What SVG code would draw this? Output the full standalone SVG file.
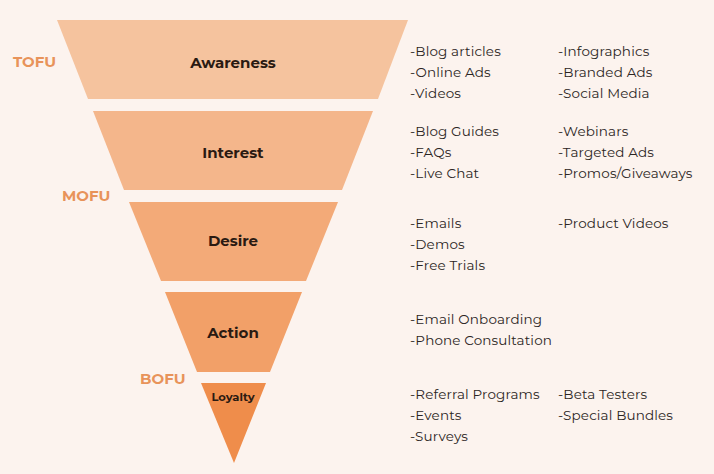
<svg xmlns="http://www.w3.org/2000/svg" width="714" height="474" viewBox="0 0 714 474">
<style>
.stage{font-family:"Montserrat","Lato","Open Sans",sans-serif;font-weight:700;font-size:15px;fill:#2a1a12;text-anchor:middle}
.tag{font-family:"Montserrat","Lato","Open Sans",sans-serif;font-weight:700;font-size:15px;fill:#E8935A}
.item{font-family:"Montserrat","Open Sans",sans-serif;font-size:13.5px;letter-spacing:0.15px;fill:#2b2523}
</style>
<rect width="714" height="474" fill="#FCF3EE"/>
<g id="awareness">
<polygon points="57,20 408,20 378,99 88,99" fill="#F5C39E"/>
<text class="stage" x="233" y="68">Awareness</text>
</g>
<g id="interest">
<polygon points="93,111 373,111 342,190 124,190" fill="#F4B68B"/>
<text class="stage" x="233" y="158">Interest</text>
</g>
<g id="desire">
<polygon points="129,202 338,202 306,281 161,281" fill="#F3AA78"/>
<text class="stage" x="233" y="246">Desire</text>
</g>
<g id="action">
<polygon points="165,292 302,292 270,372 197,372" fill="#F2A068"/>
<text class="stage" x="233" y="338">Action</text>
</g>
<g id="loyalty">
<polygon points="201,383 266,383 234,463" fill="#EF8D4B"/>
<text class="stage" x="233" y="401" style="font-size:11.5px">Loyalty</text>
</g>
<g id="labels">
<text class="tag" x="13" y="67">TOFU</text>
<text class="tag" x="62" y="201">MOFU</text>
<text class="tag" x="140" y="384">BOFU</text>
</g>
<g id="connectors"></g>
<g id="items">
<text class="item" x="410" y="56">-Blog articles</text>
<text class="item" x="410" y="77">-Online Ads</text>
<text class="item" x="410" y="98">-Videos</text>
<text class="item" x="558" y="56">-Infographics</text>
<text class="item" x="558" y="77">-Branded Ads</text>
<text class="item" x="558" y="98">-Social Media</text>
<text class="item" x="410" y="136">-Blog Guides</text>
<text class="item" x="410" y="157">-FAQs</text>
<text class="item" x="410" y="178">-Live Chat</text>
<text class="item" x="558" y="136">-Webinars</text>
<text class="item" x="558" y="157">-Targeted Ads</text>
<text class="item" x="558" y="178">-Promos/Giveaways</text>
<text class="item" x="410" y="228">-Emails</text>
<text class="item" x="410" y="249">-Demos</text>
<text class="item" x="410" y="270">-Free Trials</text>
<text class="item" x="558" y="228">-Product Videos</text>
<text class="item" x="410" y="324">-Email Onboarding</text>
<text class="item" x="410" y="345">-Phone Consultation</text>
<text class="item" x="410" y="399">-Referral Programs</text>
<text class="item" x="410" y="420">-Events</text>
<text class="item" x="410" y="441">-Surveys</text>
<text class="item" x="558" y="399">-Beta Testers</text>
<text class="item" x="558" y="420">-Special Bundles</text>
</g>
</svg>
